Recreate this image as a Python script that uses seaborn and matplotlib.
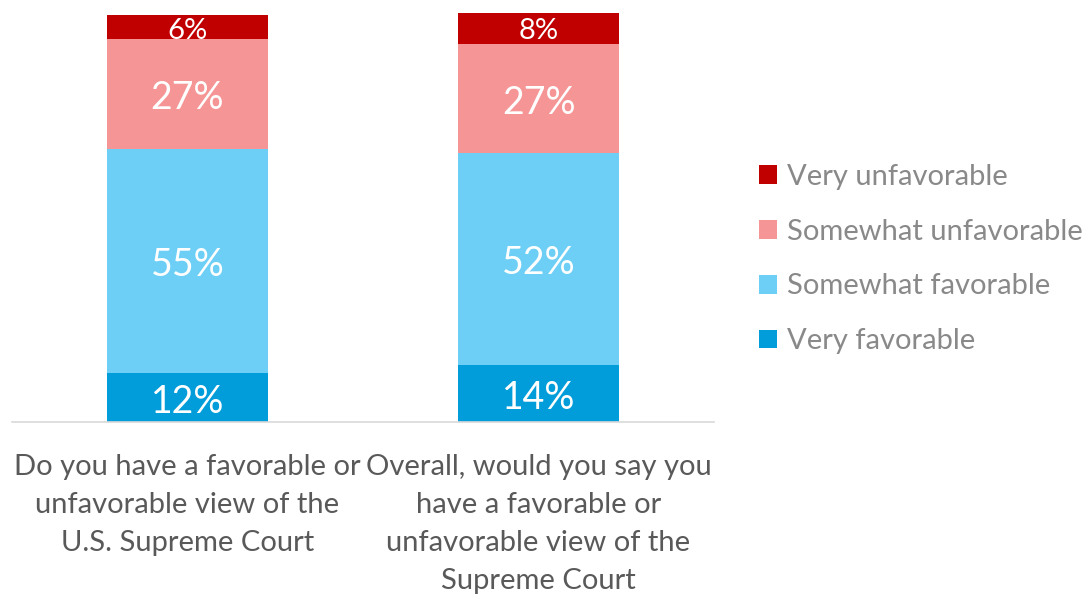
import numpy as np
import pandas as pd
import matplotlib
matplotlib.use("Agg")
import matplotlib.pyplot as plt
import seaborn as sns
from matplotlib.patches import Patch

questions = [
    "Do you have a favorable or\nunfavorable view of the\nU.S. Supreme Court",
    "Overall, would you say you\nhave a favorable or\nunfavorable view of the\nSupreme Court",
]
very_fav = [12, 14]
somewhat_fav = [55, 52]
somewhat_unfav = [27, 27]
very_unfav = [6, 8]

series_names = ["Very favorable", "Somewhat favorable", "Somewhat unfavorable", "Very unfavorable"]
colors = ["#009DDA", "#6DCFF6", "#F59595", "#C00000"]

sns.set_theme(style="white")
plt.rcParams["font.family"] = ["Lato", "DejaVu Sans"]

layers = [very_fav, somewhat_fav, somewhat_unfav, very_unfav]
cum = np.cumsum(np.array(layers), axis=0)

fig = plt.figure(figsize=(10.89, 5.96), dpi=100)
ax = fig.add_axes([12 / 1089, 1 - 422 / 596, 702 / 1089, 409 / 596])

# draw stacked bars: biggest cumulative first so lower layers sit on top
for i in range(len(layers) - 1, -1, -1):
    df = pd.DataFrame({"q": questions, "v": cum[i]})
    sns.barplot(data=df, x="q", y="v", color=colors[i], width=0.456,
                saturation=1, linewidth=0, edgecolor="none", ax=ax, zorder=2)

# value labels
for i, vals in enumerate(layers):
    for j, v in enumerate(vals):
        mid = cum[i][j] - v / 2
        fs = 21 if v < 10 else 27
        ax.text(j, mid - 1.0, f"{v}%", ha="center", va="center", color="white",
                fontsize=fs, zorder=5)

ax.set_ylim(0, 100.5)
ax.set_xlim(-0.5, 1.5)
ax.set_yticks([])
ax.set_xlabel("")
ax.set_ylabel("")
for s in ["top", "left", "right"]:
    ax.spines[s].set_visible(False)
ax.spines["bottom"].set_color("#D9D9D9")
ax.spines["bottom"].set_linewidth(1.2)
ax.tick_params(axis="x", length=0, pad=23, labelsize=21, labelcolor="#595959")
for lab in ax.get_xticklabels():
    lab.set_linespacing(1.58)

handles = [Patch(facecolor=colors[i], edgecolor="none") for i in range(3, -1, -1)]
labels = [series_names[i] for i in range(3, -1, -1)]
leg = fig.legend(handles, labels, loc="upper left", bbox_to_anchor=(747 / 1089, 1 - 152 / 596),
                 frameon=False, fontsize=21, handlelength=0.62, handleheight=0.62,
                 handletextpad=0.35, labelspacing=0.99, borderaxespad=0)
for t in leg.get_texts():
    t.set_color("#898989")

fig.savefig("out.png", dpi=100)
